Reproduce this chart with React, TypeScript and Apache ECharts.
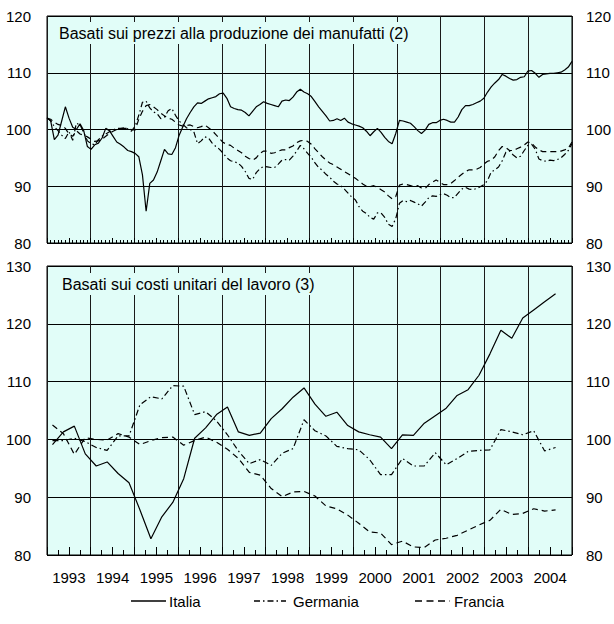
import React, { useEffect, useRef } from "react";
import * as echarts from "echarts";

// ---- Tick labels / categories ----
const yearLabels = ["1993","1994","1995","1996","1997","1998","1999","2000","2001","2002","2003","2004"];
const seriesNames = ["Italia", "Germania", "Francia"];
const panelTitles = [
  "Basati sui prezzi alla produzione dei manufatti (2)",
  "Basati sui costi unitari del lavoro (3)",
];

// ---- Top panel: monthly, Jan 1993 - Dec 2004 ----
const italiaPrezzi = [
  102.1, 101.5, 98.2, 99.0, 101.5, 104.0, 102.0, 100.4, 100.0, 101.0, 99.8, 97.0,
  96.5, 97.3, 97.6, 98.5, 100.2, 99.8, 98.8, 97.8, 97.4, 96.9, 96.3, 96.1,
  95.8, 95.2, 92.0, 85.6, 90.5, 91.1, 92.5, 94.5, 96.5, 95.7, 95.6, 96.8,
  99.0, 100.5, 101.9, 103.0, 104.0, 104.7, 104.6, 105.0, 105.4, 105.6, 105.8, 106.3,
  106.4, 105.5, 104.0, 103.7, 103.5, 103.4, 103.0, 102.4, 103.2, 104.0, 104.4, 104.9,
  104.6, 104.4, 104.2, 104.0, 105.0, 105.2, 105.1, 105.7, 106.6, 107.1, 106.6, 106.3,
  105.8, 104.9, 104.0, 103.2, 102.4, 101.5, 101.6, 101.9, 101.6, 102.0, 101.3, 101.0,
  100.8, 100.6, 100.3, 99.7, 98.9, 99.6, 100.2, 99.5, 98.6, 97.9, 97.5, 99.3,
  101.6, 101.5, 101.3, 101.1, 100.5, 99.8, 99.3, 99.9, 100.9, 101.2, 101.2, 101.6,
  101.8, 101.6, 101.3, 101.3, 102.2, 103.5, 104.2, 104.2, 104.4, 104.7, 105.0, 105.5,
  106.6, 107.5, 108.2, 108.8, 109.7, 109.4, 109.0, 108.7, 108.8, 109.2, 109.3, 110.3,
  110.4, 109.9, 109.2, 109.7, 109.8, 109.9, 109.9, 110.0, 110.1, 110.5, 111.0, 112.0,
];
const germaniaPrezzi = [
  102.0, 101.6, 100.5, 99.8, 99.0, 98.4, 99.6, 98.1, 101.1, 100.8, 99.5, 98.0,
  97.5, 97.3, 98.2, 98.8, 99.2, 99.6, 99.9, 100.2, 100.2, 100.3, 100.1, 99.7,
  100.6, 102.5, 104.8, 105.0, 103.8, 103.1, 102.8, 101.9, 102.2, 103.3, 103.7, 102.5,
  101.5, 100.9, 100.3, 100.0, 99.6, 97.5, 98.0, 98.7, 98.5, 97.6, 97.0, 96.5,
  95.8, 95.0, 94.5, 94.3, 94.1, 93.5, 92.6, 91.4, 91.2, 92.4, 93.1, 93.5,
  93.4, 93.3, 93.3, 93.9, 94.6, 94.7, 94.6, 95.3, 96.2, 97.2, 96.6, 95.8,
  95.1, 94.1, 93.3, 92.8, 92.1, 91.6, 90.9, 90.4, 90.1, 89.5, 88.8, 88.1,
  87.6, 86.4, 85.6, 85.2, 84.5, 84.2, 85.3, 85.3, 84.5, 83.3, 82.9, 84.3,
  87.0, 87.5, 87.3, 87.5, 87.2, 86.9, 86.5, 87.2, 88.0, 88.3, 88.2, 88.5,
  88.7, 88.4, 88.0, 88.0, 88.8, 89.5, 89.8, 89.5, 89.4, 89.6, 89.9, 90.3,
  91.0, 92.5, 92.9, 93.4, 94.5, 96.0, 96.2, 95.5, 95.0, 95.3, 96.3, 97.2,
  97.4, 96.5, 94.8, 94.5, 94.4, 94.6, 94.5, 94.7, 95.0, 95.6, 96.3, 97.5,
];
const franciaPrezzi = [
  102.0, 101.8, 101.3, 100.9, 100.7, 100.2, 99.2, 98.8, 99.8, 99.2, 99.0, 98.7,
  98.3, 97.9, 98.0, 98.3, 98.8, 99.3, 99.7, 100.0, 100.1, 100.2, 100.2, 100.0,
  99.9, 101.8, 103.2, 104.2, 104.4, 104.0, 103.5, 102.9, 102.4, 102.0, 101.8, 101.3,
  100.8, 100.6, 100.7, 100.8, 100.5, 100.3, 100.5, 100.8, 100.3, 99.8, 99.1, 98.4,
  97.7, 97.4, 97.2, 96.7, 96.3, 95.9, 95.3, 94.9, 94.6, 95.0, 95.8, 96.2,
  96.2, 95.8, 95.9, 96.2, 96.4, 96.4, 96.8, 97.1, 97.7, 98.0, 98.1, 97.9,
  97.4, 96.6, 95.9, 95.2, 94.6, 94.1, 93.8, 93.4, 93.0, 92.6, 92.2, 91.8,
  91.4, 90.9, 90.4, 90.0, 89.9, 90.1, 89.8, 89.4, 89.0, 88.3, 87.8, 88.2,
  90.2, 90.4, 90.3, 90.1, 89.9, 90.1, 89.7, 89.6, 90.3, 90.7, 91.1, 90.7,
  90.3, 90.3, 90.5, 91.0, 91.6, 92.1, 92.6, 92.9, 92.9, 93.0, 93.3, 93.9,
  94.4, 94.6, 95.2, 96.3, 97.0, 96.8, 96.3, 96.3, 96.6, 96.9, 97.3, 97.8,
  97.6, 96.9, 96.4, 96.1, 96.1, 96.1, 96.1, 96.1, 96.2, 96.4, 96.7, 97.8,
];

// ---- Bottom panel: quarterly, 1993Q1 - 2004Q3 ----
const italiaCosti = [
  99.1, 101.3, 102.3, 97.5,
  95.4, 96.1, 94.1, 92.5,
  87.8, 82.8, 86.6, 89.1,
  93.2, 100.2, 102.0, 104.3,
  105.6, 101.3, 100.7, 101.1,
  103.6, 105.3, 107.3, 108.9,
  106.1, 104.0, 104.7, 102.4,
  101.3, 100.8, 100.4, 98.4,
  100.8, 100.7, 102.8, 104.1,
  105.4, 107.6, 108.6, 111.1,
  114.8, 118.9, 117.5, 121.0,
  122.4, 123.8, 125.2,
];
const germaniaCosti = [
  99.8, 99.8, 100.2, 99.6,
  98.6, 98.1, 100.6, 100.6,
  106.0, 107.4, 107.0, 109.3,
  109.2, 104.3, 104.8, 103.2,
  100.8, 98.0, 95.8, 96.5,
  95.5, 97.6, 98.4, 103.4,
  101.5, 100.6, 98.8, 98.4,
  98.2, 96.5, 93.9, 93.9,
  96.7, 95.4, 95.4, 97.7,
  95.6, 96.7, 97.9, 98.1,
  98.2, 101.7, 101.3, 100.8,
  101.5, 98.0, 98.6,
];
const franciaCosti = [
  102.5, 101.0, 97.4, 100.3,
  100.0, 99.9, 101.0, 100.4,
  99.1, 99.8, 100.3, 100.4,
  99.0, 99.8, 100.4, 99.5,
  98.3, 96.7, 94.3, 93.8,
  91.5, 90.1, 90.9, 91.0,
  90.2, 88.5, 88.0, 86.9,
  85.5, 84.0, 83.8, 81.8,
  82.4, 81.4, 81.3, 82.6,
  82.9, 83.4, 84.3, 85.2,
  86.0, 87.9, 87.0, 87.2,
  88.0, 87.6, 87.8,
];

const FONT = "'Liberation Sans', Arial, sans-serif";
const BG = "#e1fdf8";
const START = Number(yearLabels[0]);
const END = Number(yearLabels[yearLabels.length - 1]) + 1;

const monthX = (i: number) => START + (i * (END - START)) / 143;
const quarterX = (i: number) => START + (i + 0.5) / 4;

const dashes: Record<string, any> = {
  Italia: "solid",
  Germania: [6, 3, 1.5, 3],
  Francia: [6, 4],
};
const legendDashes: Record<string, number[] | null> = {
  Italia: null,
  Germania: [6, 3, 1.5, 3],
  Francia: [7, 4.5],
};

export default function App() {
  const ref = useRef<HTMLDivElement>(null);
  useEffect(() => {
    if (!ref.current) return;
    const chart = echarts.init(ref.current, undefined, { renderer: "svg" });

    const grids = [
      { left: 47, right: 39, top: 16, height: 227 },
      { left: 47, right: 39, top: 266, height: 289 },
    ].map((g) => ({ ...g, show: true, backgroundColor: BG, borderColor: "#000", borderWidth: 1, containLabel: false }));

    const hidden = { show: false };
    const xMain = (gridIndex: number, minorLen: number) => ({
      type: "value", gridIndex, min: START, max: END, interval: 1, position: "bottom",
      axisLine: { show: false, onZero: false },
      axisTick: { show: false, inside: true },
      minorTick: { show: true, splitNumber: gridIndex === 0 ? 12 : 4, length: minorLen, lineStyle: { color: "#000", width: 1 } },
      axisLabel: hidden,
      splitLine: { show: true, lineStyle: { color: "#1a1a1a", width: 1 } },
    });
    const xHalf = (gridIndex: number, len: number, withLabels: boolean) => ({
      type: "value", gridIndex, min: START, max: END, interval: 0.5, position: "bottom",
      axisLine: { show: false, onZero: false },
      axisTick: { show: true, inside: true, length: len, lineStyle: { color: "#000", width: 1 } },
      axisLabel: withLabels
        ? {
            show: true, margin: 15, fontSize: 15, color: "#000", fontFamily: FONT,
            formatter: (v: number) => (Math.abs((v % 1) - 0.5) < 1e-6 ? yearLabels[Math.floor(v) - START] : ""),
          }
        : hidden,
      splitLine: hidden,
    });
    const yAx = (gridIndex: number, max: number, position: string, split: boolean) => ({
      type: "value", gridIndex, min: 80, max, interval: 10, position,
      axisLine: { show: false }, axisTick: { show: false },
      axisLabel: { show: true, margin: position === "left" ? 16 : 14, fontSize: 15, color: "#000", fontFamily: FONT },
      splitLine: { show: split, lineStyle: { color: "#000", width: 1 } },
    });

    const mk = (name: string, data: number[], xf: (i: number) => number, xi: number, yi: number) => ({
      type: "line", name, xAxisIndex: xi, yAxisIndex: yi, symbol: "none", silent: true,
      data: data.map((v, i) => [xf(i), v]),
      lineStyle: { color: "#000", width: 1.2, type: dashes[name] }, itemStyle: { color: "#000" },
    });

    // legend drawn as graphic: line sample + label
    const legendSpec = [
      { name: seriesNames[0], x1: 131, x2: 166, tx: 169 },
      { name: seriesNames[1], x1: 254, x2: 286, tx: 293 },
      { name: seriesNames[2], x1: 415, x2: 450, tx: 454 },
    ];
    const LY = 601;
    const legendGraphics: any[] = [];
    legendSpec.forEach((l) => {
      legendGraphics.push({
        type: "line", silent: true,
        shape: { x1: l.x1, y1: LY, x2: l.x2, y2: LY },
        style: { stroke: "#000", lineWidth: 1.3, lineDash: legendDashes[l.name] || undefined },
      });
      legendGraphics.push({
        type: "text", silent: true, x: l.tx, y: LY,
        style: { text: l.name, fontSize: 15, fontFamily: FONT, fill: "#000", verticalAlign: "middle", align: "left" },
      });
    });

    chart.setOption({
      animation: false,
      backgroundColor: "#fff",
      textStyle: { fontFamily: FONT },
      title: [
        { text: panelTitles[0], left: 53, top: 22, backgroundColor: BG, padding: [3, 6],
          textStyle: { fontSize: 16, fontWeight: "normal", color: "#000", fontFamily: FONT } },
        { text: panelTitles[1], left: 56, top: 273, backgroundColor: BG, padding: [3, 6],
          textStyle: { fontSize: 16, fontWeight: "normal", color: "#000", fontFamily: FONT } },
      ],
      graphic: legendGraphics,
      grid: grids,
      xAxis: [xMain(0, 3), xHalf(0, 5, false), xMain(1, 5), xHalf(1, 8, true)],
      yAxis: [yAx(0, 120, "left", true), yAx(0, 120, "right", false), yAx(1, 130, "left", true), yAx(1, 130, "right", false)],
      series: [
        mk("Italia", italiaPrezzi, monthX, 0, 0),
        mk("Germania", germaniaPrezzi, monthX, 0, 0),
        mk("Francia", franciaPrezzi, monthX, 0, 0),
        mk("Italia", italiaCosti, quarterX, 2, 2),
        mk("Germania", germaniaCosti, quarterX, 2, 2),
        mk("Francia", franciaCosti, quarterX, 2, 2),
      ],
    });
    return () => chart.dispose();
  }, []);
  return <div ref={ref} style={{ position: "fixed", left: 0, top: 0, width: 614, height: 624 }} />;
}
